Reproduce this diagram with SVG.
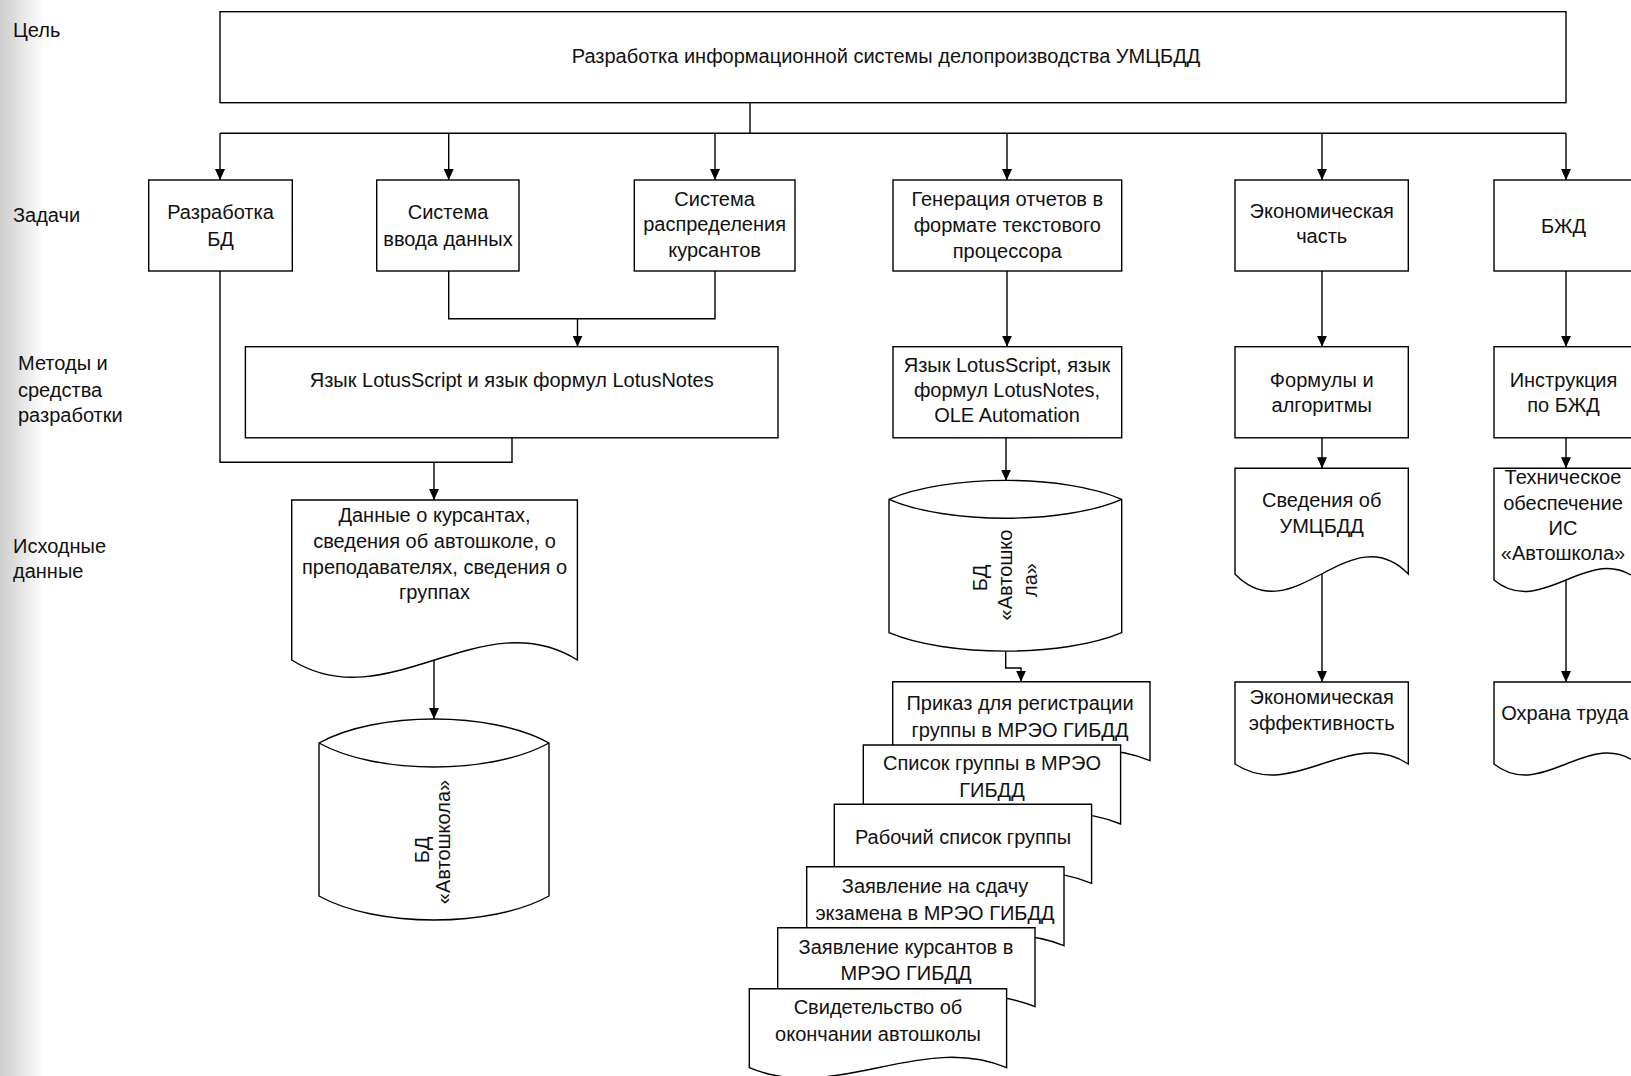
<svg xmlns="http://www.w3.org/2000/svg" width="1631" height="1076" viewBox="0 0 1631 1076">
<defs>
<linearGradient id="lg" x1="0" y1="0" x2="1" y2="0">
<stop offset="0" stop-color="#cccccc"/>
<stop offset="1" stop-color="#ffffff"/>
</linearGradient>
<marker id="ah" viewBox="0 0 11 10" refX="11" refY="5" markerWidth="11" markerHeight="10" markerUnits="userSpaceOnUse" orient="auto">
<path d="M0,0 L11,5 L0,10 Z" fill="#000"/>
</marker>
<style>
.ln{fill:none;stroke:#000;stroke-width:1.4}
.ar{fill:none;stroke:#000;stroke-width:1.4;marker-end:url(#ah)}
.sh{fill:#fff;stroke:#000;stroke-width:1.4}
text{font-family:"Liberation Sans",Arial,"Noto Sans",sans-serif;font-size:20px;fill:#111}
.c{text-anchor:middle}
</style>
</defs>
<rect x="0" y="0" width="1631" height="1076" fill="#fff"/>
<rect x="0" y="0" width="44" height="1076" fill="url(#lg)"/>

<g id="labels">
<text x="13" y="37">Цель</text>
<text x="13" y="222">Задачи</text>
<text x="18" y="370">Методы и</text>
<text x="18" y="396.5">средства</text>
<text x="18" y="421.5">разработки</text>
<text x="13" y="553">Исходные</text>
<text x="13" y="578">данные</text>
</g>

<g id="connectors">
<path class="ln" d="M750,102.7 V133.3 M220,133.3 H1566"/>
<path class="ar" d="M220,133.3 V180"/>
<path class="ar" d="M448.7,133.3 V180"/>
<path class="ar" d="M715,133.3 V180"/>
<path class="ar" d="M1007,133.3 V180"/>
<path class="ar" d="M1322,133.3 V180"/>
<path class="ar" d="M1566,133.3 V180"/>
<path class="ln" d="M448.7,271 V318.7 H715 V271"/>
<path class="ar" d="M577.5,318.7 V346.7"/>
<path class="ln" d="M220,271 V462.3 H512 V437.8"/>
<path class="ar" d="M434,462.3 V500"/>
<path class="ar" d="M434,660 V719"/>
<path class="ar" d="M1007,271 V346.7"/>
<path class="ar" d="M1006,437.8 V480.7"/>
<path class="ar" d="M1005.7,650.7 V668 H1021 V681.7"/>
<path class="ar" d="M1322,271 V346.7"/>
<path class="ar" d="M1322,437.8 V468.3"/>
<path class="ar" d="M1322,574 V682"/>
<path class="ar" d="M1566,271 V346.7"/>
<path class="ar" d="M1566,437.8 V468.3"/>
<path class="ar" d="M1566,580 V682"/>
</g>

<g id="goal">
<rect class="sh" x="220" y="11.7" width="1346" height="91"/>
<text class="c" x="886" y="63.3">Разработка информационной системы делопроизводства УМЦБДД</text>
</g>

<g id="task-db">
<rect class="sh" x="148.7" y="180" width="143.6" height="91"/>
<text class="c" x="220.5" y="219">Разработка</text>
<text class="c" x="220.5" y="246">БД</text>
</g>
<g id="task-input">
<rect class="sh" x="376.7" y="180" width="142.3" height="91"/>
<text class="c" x="448" y="219">Система</text>
<text class="c" x="448" y="246">ввода данных</text>
</g>
<g id="task-distrib">
<rect class="sh" x="634.3" y="180" width="160.7" height="91"/>
<text class="c" x="714.6" y="205.7">Система</text>
<text class="c" x="714.6" y="231">распределения</text>
<text class="c" x="714.6" y="256.7">курсантов</text>
</g>
<g id="task-reports">
<rect class="sh" x="893" y="180" width="228.7" height="91"/>
<text class="c" x="1007.3" y="206">Генерация отчетов в</text>
<text class="c" x="1007.3" y="232">формате текстового</text>
<text class="c" x="1007.3" y="258">процессора</text>
</g>
<g id="task-econ">
<rect class="sh" x="1235" y="180" width="173.3" height="91"/>
<text class="c" x="1321.7" y="218.3">Экономическая</text>
<text class="c" x="1321.7" y="243.3">часть</text>
</g>
<g id="task-bzhd">
<rect class="sh" x="1494" y="180" width="144" height="91"/>
<text class="c" x="1563.5" y="232.5">БЖД</text>
</g>

<g id="method-lotus">
<rect class="sh" x="245.4" y="346.7" width="532.6" height="91.1"/>
<text class="c" x="511.7" y="387">Язык LotusScript и язык формул LotusNotes</text>
</g>
<g id="method-ole">
<rect class="sh" x="893" y="346.7" width="228.7" height="91.1"/>
<text class="c" x="1007" y="372">Язык LotusScript, язык</text>
<text class="c" x="1007" y="397">формул LotusNotes,</text>
<text class="c" x="1007" y="422">OLE Automation</text>
</g>
<g id="method-formulas">
<rect class="sh" x="1235" y="346.7" width="173.3" height="91.1"/>
<text class="c" x="1321.7" y="387">Формулы и</text>
<text class="c" x="1321.7" y="412">алгоритмы</text>
</g>
<g id="method-instr">
<rect class="sh" x="1494" y="346.7" width="144" height="91.1"/>
<text class="c" x="1563.5" y="387">Инструкция</text>
<text class="c" x="1563.5" y="412">по БЖД</text>
</g>

<g id="data-students">
<path class="sh" d="M291.7,500 H577.4 V660 C482.2,600 386.9,720 291.7,660 Z"/>
<text class="c" x="434.5" y="522">Данные о курсантах,</text>
<text class="c" x="434.5" y="548">сведения об автошколе, о</text>
<text class="c" x="434.5" y="574">преподавателях,  сведения о</text>
<text class="c" x="434.5" y="599">группах</text>
</g>
<g id="db-autoschool-1">
<path class="sh" d="M319,743 C376.5,711 491.5,711 549,743 V896 C491.5,928 376.5,928 319,896 Z"/>
<path class="ln" d="M319,743 C376.5,775 491.5,775 549,743"/>
<text class="c" transform="translate(428.7,850) rotate(-90)">БД</text>
<text class="c" transform="translate(450,842) rotate(-90)">«Автошкола»</text>
</g>
<g id="db-autoschool-2">
<path class="sh" d="M889,499.3 C947,474 1063.7,474 1121.7,499.3 V632.7 C1063.7,657.3 947,657.3 889,632.7 Z"/>
<path class="ln" d="M889,499.3 C947,524.6 1063.7,524.6 1121.7,499.3"/>
<text class="c" transform="translate(987,578) rotate(-90)">БД</text>
<text class="c" transform="translate(1012,575) rotate(-90)">«Автошко</text>
<text class="c" transform="translate(1037,580) rotate(-90)">ла»</text>
</g>
<g id="data-umcbdd">
<path class="sh" d="M1235,468.3 H1408.3 V574 C1350.5,514 1292.8,634 1235,574 Z"/>
<text class="c" x="1321.7" y="507">Сведения об</text>
<text class="c" x="1321.7" y="533">УМЦБДД</text>
</g>
<g id="data-tech">
<path class="sh" d="M1494,468.3 H1638 V580 C1590,540 1542,620 1494,580 Z"/>
<text class="c" x="1563" y="484">Техническое</text>
<text class="c" x="1563" y="510">обеспечение</text>
<text class="c" x="1563" y="535">ИС</text>
<text class="c" x="1563" y="560">«Автошкола»</text>
</g>
<g id="out-econ">
<path class="sh" d="M1235,682 H1408.3 V764 C1350.5,726 1292.8,802 1235,764 Z"/>
<text class="c" x="1321.7" y="704">Экономическая</text>
<text class="c" x="1321.7" y="730">эффективность</text>
</g>
<g id="out-labor">
<path class="sh" d="M1494,682 H1638 V764 C1590,726 1542,802 1494,764 Z"/>
<text class="c" x="1565" y="720">Охрана труда</text>
</g>

<g id="doc-order">
<path class="sh" d="M892.7,681.7 H1150 V760.7 C1064.2,724.7 978.5,796.7 892.7,760.7 Z"/>
<text class="c" x="1020" y="710">Приказ для регистрации</text>
<text class="c" x="1020" y="736.7">группы в МРЭО ГИБДД</text>
</g>
<g id="doc-grouplist">
<path class="sh" d="M863.3,745 H1120.6 V824 C1034.8,788 949.1,860 863.3,824 Z"/>
<text class="c" x="992" y="770">Список группы в МРЭО</text>
<text class="c" x="992" y="796.7">ГИБДД</text>
</g>
<g id="doc-worklist">
<path class="sh" d="M834.3,804.3 H1091.6 V883.3 C1005.8,847.3 920.1,919.3 834.3,883.3 Z"/>
<text class="c" x="963" y="844">Рабочий список группы</text>
</g>
<g id="doc-exam">
<path class="sh" d="M806.7,866.7 H1064 V945.7 C978.2,909.7 892.5,981.7 806.7,945.7 Z"/>
<text class="c" x="935" y="893">Заявление на сдачу</text>
<text class="c" x="935" y="920">экзамена в МРЭО ГИБДД</text>
</g>
<g id="doc-students-app">
<path class="sh" d="M777.7,927.7 H1035 V1006.7 C949.2,970.7 863.5,1042.7 777.7,1006.7 Z"/>
<text class="c" x="906" y="954">Заявление курсантов в</text>
<text class="c" x="906" y="980">МРЭО ГИБДД</text>
</g>
<g id="doc-certificate">
<path class="sh" d="M749.3,988.7 H1006.6 V1067.7 C920.8,1031.7 835.1,1103.7 749.3,1067.7 Z"/>
<text class="c" x="878" y="1014">Свидетельство об</text>
<text class="c" x="878" y="1040.7">окончании автошколы</text>
</g>
</svg>
